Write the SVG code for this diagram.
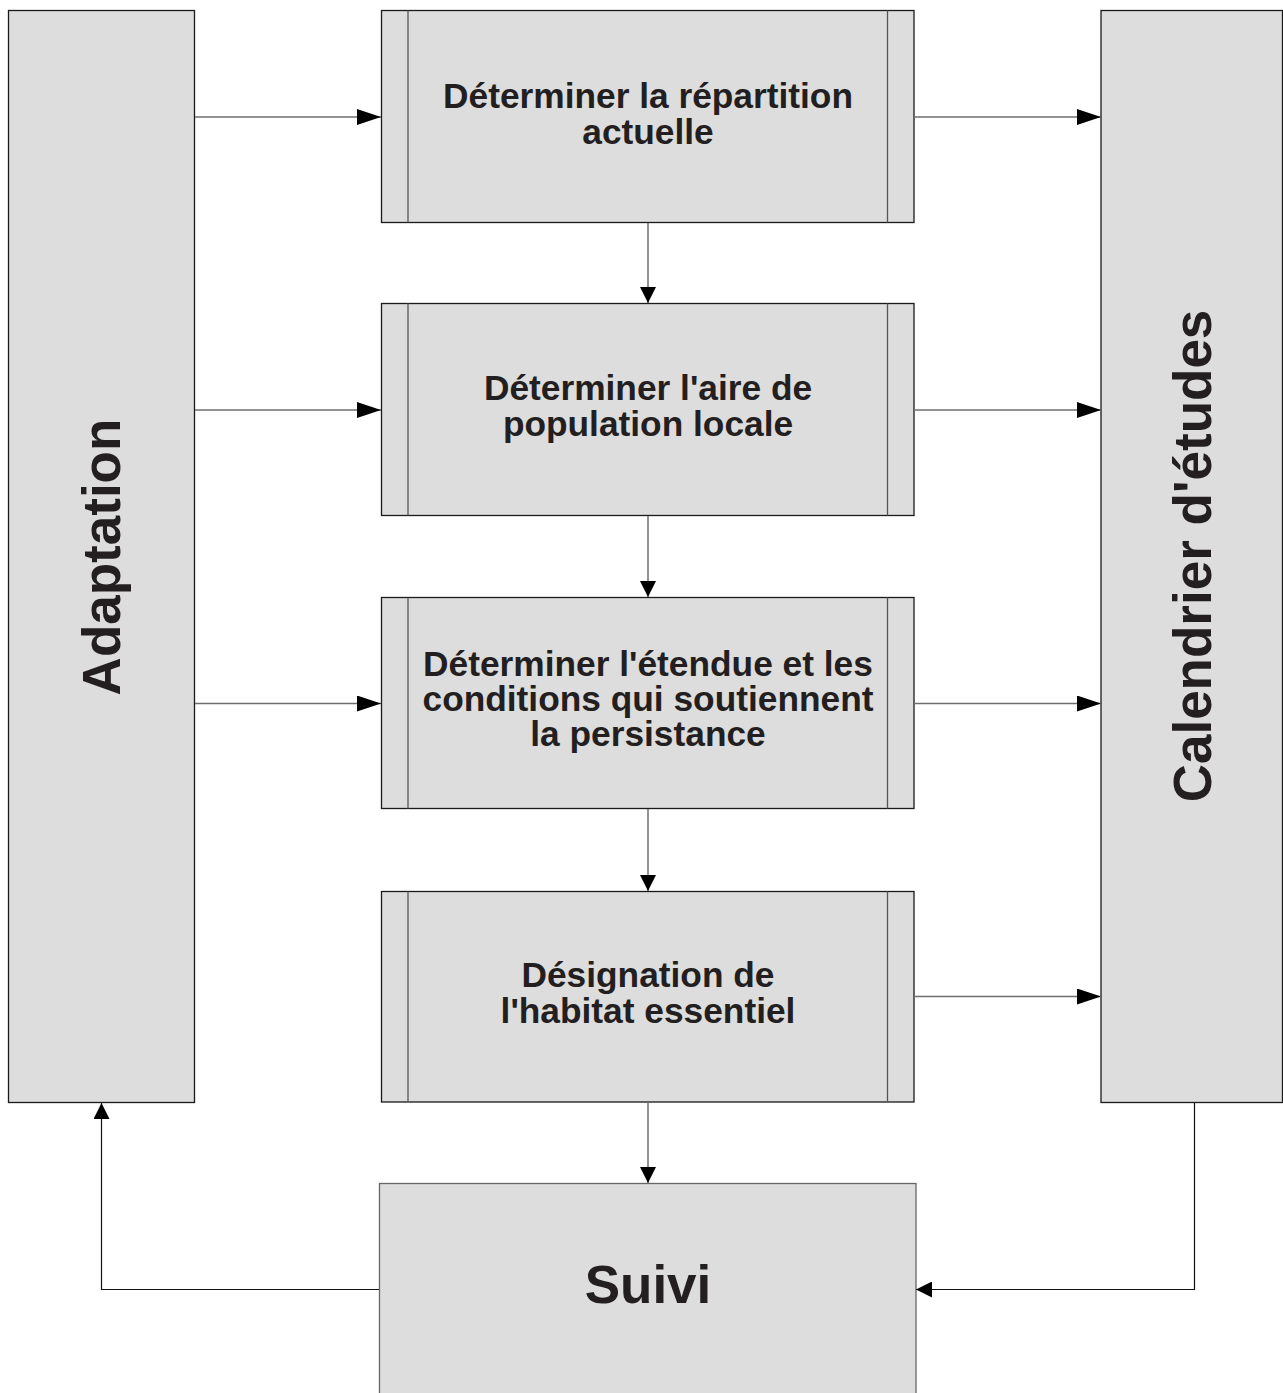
<svg xmlns="http://www.w3.org/2000/svg" width="1283" height="1393" viewBox="0 0 1283 1393">
<style>
.box{fill:#dddddd;stroke:#1a1a1a;stroke-width:1.3}
.inner{stroke:#555;stroke-width:1.3}
.t{font-family:"Liberation Sans",Arial,sans-serif;font-weight:bold;fill:#231f20;text-anchor:middle}
.m{font-size:35.3px}
.c{fill:none;stroke:#6e6e6e;stroke-width:1.5}
.fb{fill:none;stroke:#111;stroke-width:1.2}
</style>
<defs>
<marker id="ah" viewBox="0 0 24 16" refX="24" refY="8" markerWidth="24" markerHeight="16" markerUnits="userSpaceOnUse" orient="auto">
<path d="M0,0 L24,8 L0,16 Z" fill="#000"/>
</marker>
<marker id="av" viewBox="0 0 16 16" refX="16" refY="8" markerWidth="16" markerHeight="16" markerUnits="userSpaceOnUse" orient="auto">
<path d="M0,0 L16,8 L0,16 Z" fill="#000"/>
</marker>
</defs>
<rect width="1283" height="1393" fill="#fff"/>
<g id="adaptation">
<rect class="box" x="8.5" y="10.5" width="186" height="1092"/>
<text class="t" font-size="53" transform="translate(120,557) rotate(-90)">Adaptation</text>
</g>
<g id="calendrier">
<rect class="box" x="1101" y="10.5" width="181.5" height="1092"/>
<text class="t" font-size="53" transform="translate(1211,556) rotate(-90)">Calendrier d'études</text>
</g>
<g id="box1">
<rect class="box" x="381.5" y="10.5" width="532.5" height="212"/>
<line class="inner" x1="408" y1="10.5" x2="408" y2="222.5"/>
<line class="inner" x1="887.5" y1="10.5" x2="887.5" y2="222.5"/>
<text class="t m" x="648" y="107.5">Déterminer la répartition</text>
<text class="t m" x="648" y="143.5">actuelle</text>
</g>
<g id="box2">
<rect class="box" x="381.5" y="303.5" width="532.5" height="212"/>
<line class="inner" x1="408" y1="303.5" x2="408" y2="515.5"/>
<line class="inner" x1="887.5" y1="303.5" x2="887.5" y2="515.5"/>
<text class="t m" x="648" y="400">Déterminer l'aire de</text>
<text class="t m" x="648" y="436">population locale</text>
</g>
<g id="box3">
<rect class="box" x="381.5" y="597.5" width="532.5" height="211"/>
<line class="inner" x1="408" y1="597.5" x2="408" y2="808.5"/>
<line class="inner" x1="887.5" y1="597.5" x2="887.5" y2="808.5"/>
<text class="t m" x="648" y="676">Déterminer l'étendue et les</text>
<text class="t m" x="648" y="711">conditions qui soutiennent</text>
<text class="t m" x="648" y="746">la persistance</text>
</g>
<g id="box4">
<rect class="box" x="381.5" y="891.5" width="532.5" height="210.5"/>
<line class="inner" x1="408" y1="891.5" x2="408" y2="1102"/>
<line class="inner" x1="887.5" y1="891.5" x2="887.5" y2="1102"/>
<text class="t m" x="648" y="987">Désignation de</text>
<text class="t m" x="648" y="1022.5">l'habitat essentiel</text>
</g>
<g id="suivi">
<rect x="379.5" y="1183.5" width="536.5" height="220" fill="#dddddd" stroke="#666" stroke-width="1.3"/>
<text class="t" font-size="53" x="648" y="1302.5">Suivi</text>
</g>
<g id="connectors">
<line class="c" x1="195" y1="117" x2="381" y2="117" marker-end="url(#ah)"/>
<line class="c" x1="195" y1="410" x2="381" y2="410" marker-end="url(#ah)"/>
<line class="c" x1="195" y1="703.5" x2="381" y2="703.5" marker-end="url(#ah)"/>
<line class="c" x1="914" y1="117" x2="1101" y2="117" marker-end="url(#ah)"/>
<line class="c" x1="914" y1="410" x2="1101" y2="410" marker-end="url(#ah)"/>
<line class="c" x1="914" y1="703.5" x2="1101" y2="703.5" marker-end="url(#ah)"/>
<line class="c" x1="914" y1="996.5" x2="1101" y2="996.5" marker-end="url(#ah)"/>
<line class="c" x1="648" y1="223" x2="648" y2="303" marker-end="url(#av)"/>
<line class="c" x1="648" y1="516" x2="648" y2="597" marker-end="url(#av)"/>
<line class="c" x1="648" y1="809" x2="648" y2="891" marker-end="url(#av)"/>
<line class="c" x1="648" y1="1102" x2="648" y2="1183" marker-end="url(#av)"/>
<polyline class="fb" points="379,1289.5 101.5,1289.5 101.5,1103" marker-end="url(#av)"/>
<polyline class="fb" points="1194.5,1103 1194.5,1289.5 916,1289.5" marker-end="url(#av)"/>
</g>
</svg>
